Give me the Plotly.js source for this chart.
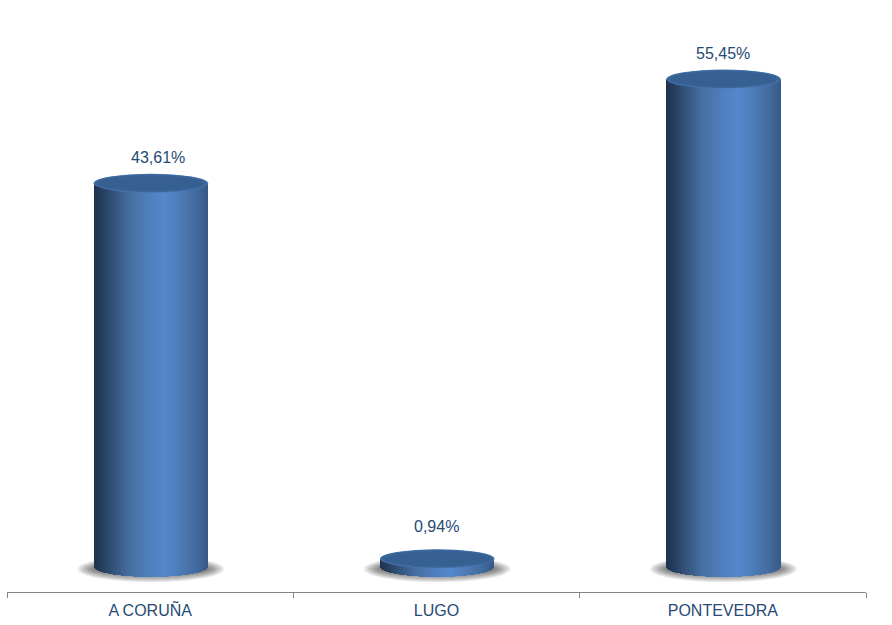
<!DOCTYPE html>
<html><head><meta charset="utf-8">
<script src="https://cdn.plot.ly/plotly-3.0.1.min.js"></script>
<style>html,body{margin:0;padding:0;background:#fff}#c{width:892px;height:625px}</style></head>
<body><div id="c"></div>
<script>
const categories = ["A CORUÑA", "LUGO", "PONTEVEDRA"];
const values = [43.61, 0.94, 55.45];
const labels = ["43,61%", "0,94%", "55,45%"];

const W = 892, H = 625;
const margin = {l: 7, r: 26, t: 0, b: 33};
const pxPerUnit = 8.8, zeroPx = 567;
const catPx = (W - margin.l - margin.r) / 3;
const barW = 114.5 / catPx;
const nudge = 0.7 / catPx;
const STRIPS = 114;
const halfH = 10;
const labelShiftX = [8, -0.5, 0];
const labelShiftY = [26, 32, 26];
const stops = [[0,[30,50,76]],[0.07,[36,62,94]],[0.18,[52,84,124]],[0.32,[70,112,163]],[0.5,[80,128,192]],[0.62,[84,135,203]],[0.75,[78,124,184]],[0.9,[66,106,158]],[1,[54,88,132]]];
function grad(u){
  for(let i=1;i<stops.length;i++){
    if(u<=stops[i][0]){
      const a=stops[i-1],b=stops[i],t=(u-a[0])/(b[0]-a[0]);
      return `rgb(${a[1].map((v,k)=>Math.round(v+(b[1][k]-v)*t)).join(",")})`;
    }
  }
  return "rgb(54,88,132)";
}
const traces = [];
for(let s=0;s<STRIPS;s++){
  const u=(s+0.5)/STRIPS, e=2*u-1;
  const d=Math.sqrt(1-e*e)*halfH/pxPerUnit;
  traces.push({type:"bar",x:categories,y:values.map(v=>v+d),base:values.map(()=>-d),
    width:barW/STRIPS*1.02,offset:-barW/2+barW*s/STRIPS+nudge,
    marker:{color:grad(u),line:{width:0}},hoverinfo:"skip",showlegend:false});
}
const annotations = values.map((v,i)=>({x:categories[i],y:v,xref:"x",yref:"y",text:labels[i],showarrow:false,
  xanchor:"center",yanchor:"middle",xshift:labelShiftX[i],yshift:labelShiftY[i],
  font:{family:"Liberation Sans, Arial, sans-serif",size:16,color:"#264a75"}}));

const shapes=[];
values.forEach((v,i)=>{
  for(let k=0;k<26;k++){
    const hx=74-k*0.75, hy=13.5-k*0.35;
    shapes.push({type:"circle",layer:"below",xref:"x",yref:"y",xsizemode:"pixel",ysizemode:"pixel",
      xanchor:i,yanchor:0,x0:-hx+0.7,x1:hx+0.7,y0:-hy-2,y1:hy-2,fillcolor:"rgba(50,50,50,0.035)",line:{width:0}});
  }
  const rims=[[0,"#4a78ad"],[1,"#3f6b9f"],[2,"#3a669a"],[4,"#365f92"]];
  rims.forEach(([inset,col])=>{
    shapes.push({type:"circle",layer:"above",xref:"x",yref:"y",ysizemode:"pixel",yanchor:v,
      x0:i+nudge-barW/2+inset/catPx,x1:i+nudge+barW/2-inset/catPx,y0:-9.5+inset*0.5,y1:9.5-inset*0.5,fillcolor:col,line:{width:0}});
  });
});

const layout={width:W,height:H,margin,paper_bgcolor:"#fff",plot_bgcolor:"rgba(0,0,0,0)",
  barmode:"overlay",bargap:0,showlegend:false,shapes,annotations,
  xaxis:{type:"category",range:[-0.5,2.5],tickson:"boundaries",ticks:"outside",ticklen:5,tickcolor:"#868686",tickwidth:1,
    showline:true,linecolor:"#868686",linewidth:1,showgrid:false,zeroline:false,ticklabelstandoff:4,
    tickfont:{family:"Liberation Sans, Arial, sans-serif",size:16,color:"#264a75"},automargin:false},
  yaxis:{range:[-(H-margin.b-zeroPx)/pxPerUnit,zeroPx/pxPerUnit],visible:false,showgrid:false,zeroline:false,fixedrange:true}
};
Plotly.newPlot("c",traces,layout,{staticPlot:true,displayModeBar:false});
</script></body></html>
